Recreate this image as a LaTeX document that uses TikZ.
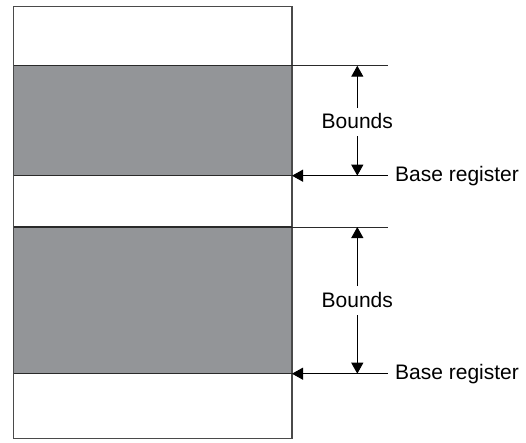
\documentclass[tikz,border=0pt]{standalone}
\usepackage{fontspec}
\setmainfont{Liberation Sans}
\usetikzlibrary{arrows.meta}
\definecolor{blockgray}{HTML}{939598}
\definecolor{linedark}{HTML}{2A2A2A}
\tikzset{
  memline/.style={draw=linedark, line width=1.3pt},
  guide/.style={draw=linedark, line width=1pt},
  dimarrow/.style={draw=black, line width=1pt, -{Triangle[width=12pt,length=11pt]}},
  lbl/.style={font=\fontsize{21}{25}\selectfont, inner sep=0pt},
}
\begin{document}
\begin{tikzpicture}[x=1pt,y=-1pt]
\useasboundingbox (0,0) rectangle (526,442);
% gray blocks
\fill[blockgray] (13.7,65.7) rectangle (292,175.7);
\fill[blockgray] (13.7,227) rectangle (292,373.7);
% outer rectangle
\draw[draw=linedark!85, line width=1.3pt] (13.7,6.3) rectangle (292,438.5);
% block boundaries
\draw[memline] (13.7,65.7) -- (292,65.7);
\draw[memline] (13.7,175.7) -- (292,175.7);
\draw[memline] (13.7,227) -- (292,227);
\draw[memline] (13.7,373.7) -- (292,373.7);
% coordinates
\coordinate (t1) at (357.3,65.7);
\coordinate (b1) at (357.3,175.7);
\coordinate (t2) at (357.3,227);
\coordinate (b2) at (357.3,373.7);
\coordinate (g1) at (387.7,65.7);
\coordinate (g2) at (387.7,227);
\coordinate (r1) at (387.7,175.7);
\coordinate (r2) at (387.7,373.7);
\coordinate (e1) at (292,65.7);
\coordinate (e2) at (292,227);
\coordinate (p1) at (292,175.7);
\coordinate (p2) at (292,373.7);
% labels
\node[lbl] (bd1) at (357.3,120.5) {Bounds};
\node[lbl] (bd2) at (357.3,299.5) {Bounds};
\node[lbl, anchor=west] (br1) at (395,176.5) {Base register};
\node[lbl, anchor=west] (br2) at (395,374.5) {Base register};
% guides
\draw[guide] (e1) -- (g1);
\draw[guide] (e2) -- (g2);
% bounds arrows
\draw[dimarrow] (357.3,108) -- (t1);
\draw[dimarrow] (357.3,136) -- (b1);
\draw[dimarrow] (357.3,286) -- (t2);
\draw[dimarrow] (357.3,315) -- (b2);
% base register arrows
\draw[dimarrow] (r1) -- (p1);
\draw[dimarrow] (r2) -- (p2);
\end{tikzpicture}
\end{document}
